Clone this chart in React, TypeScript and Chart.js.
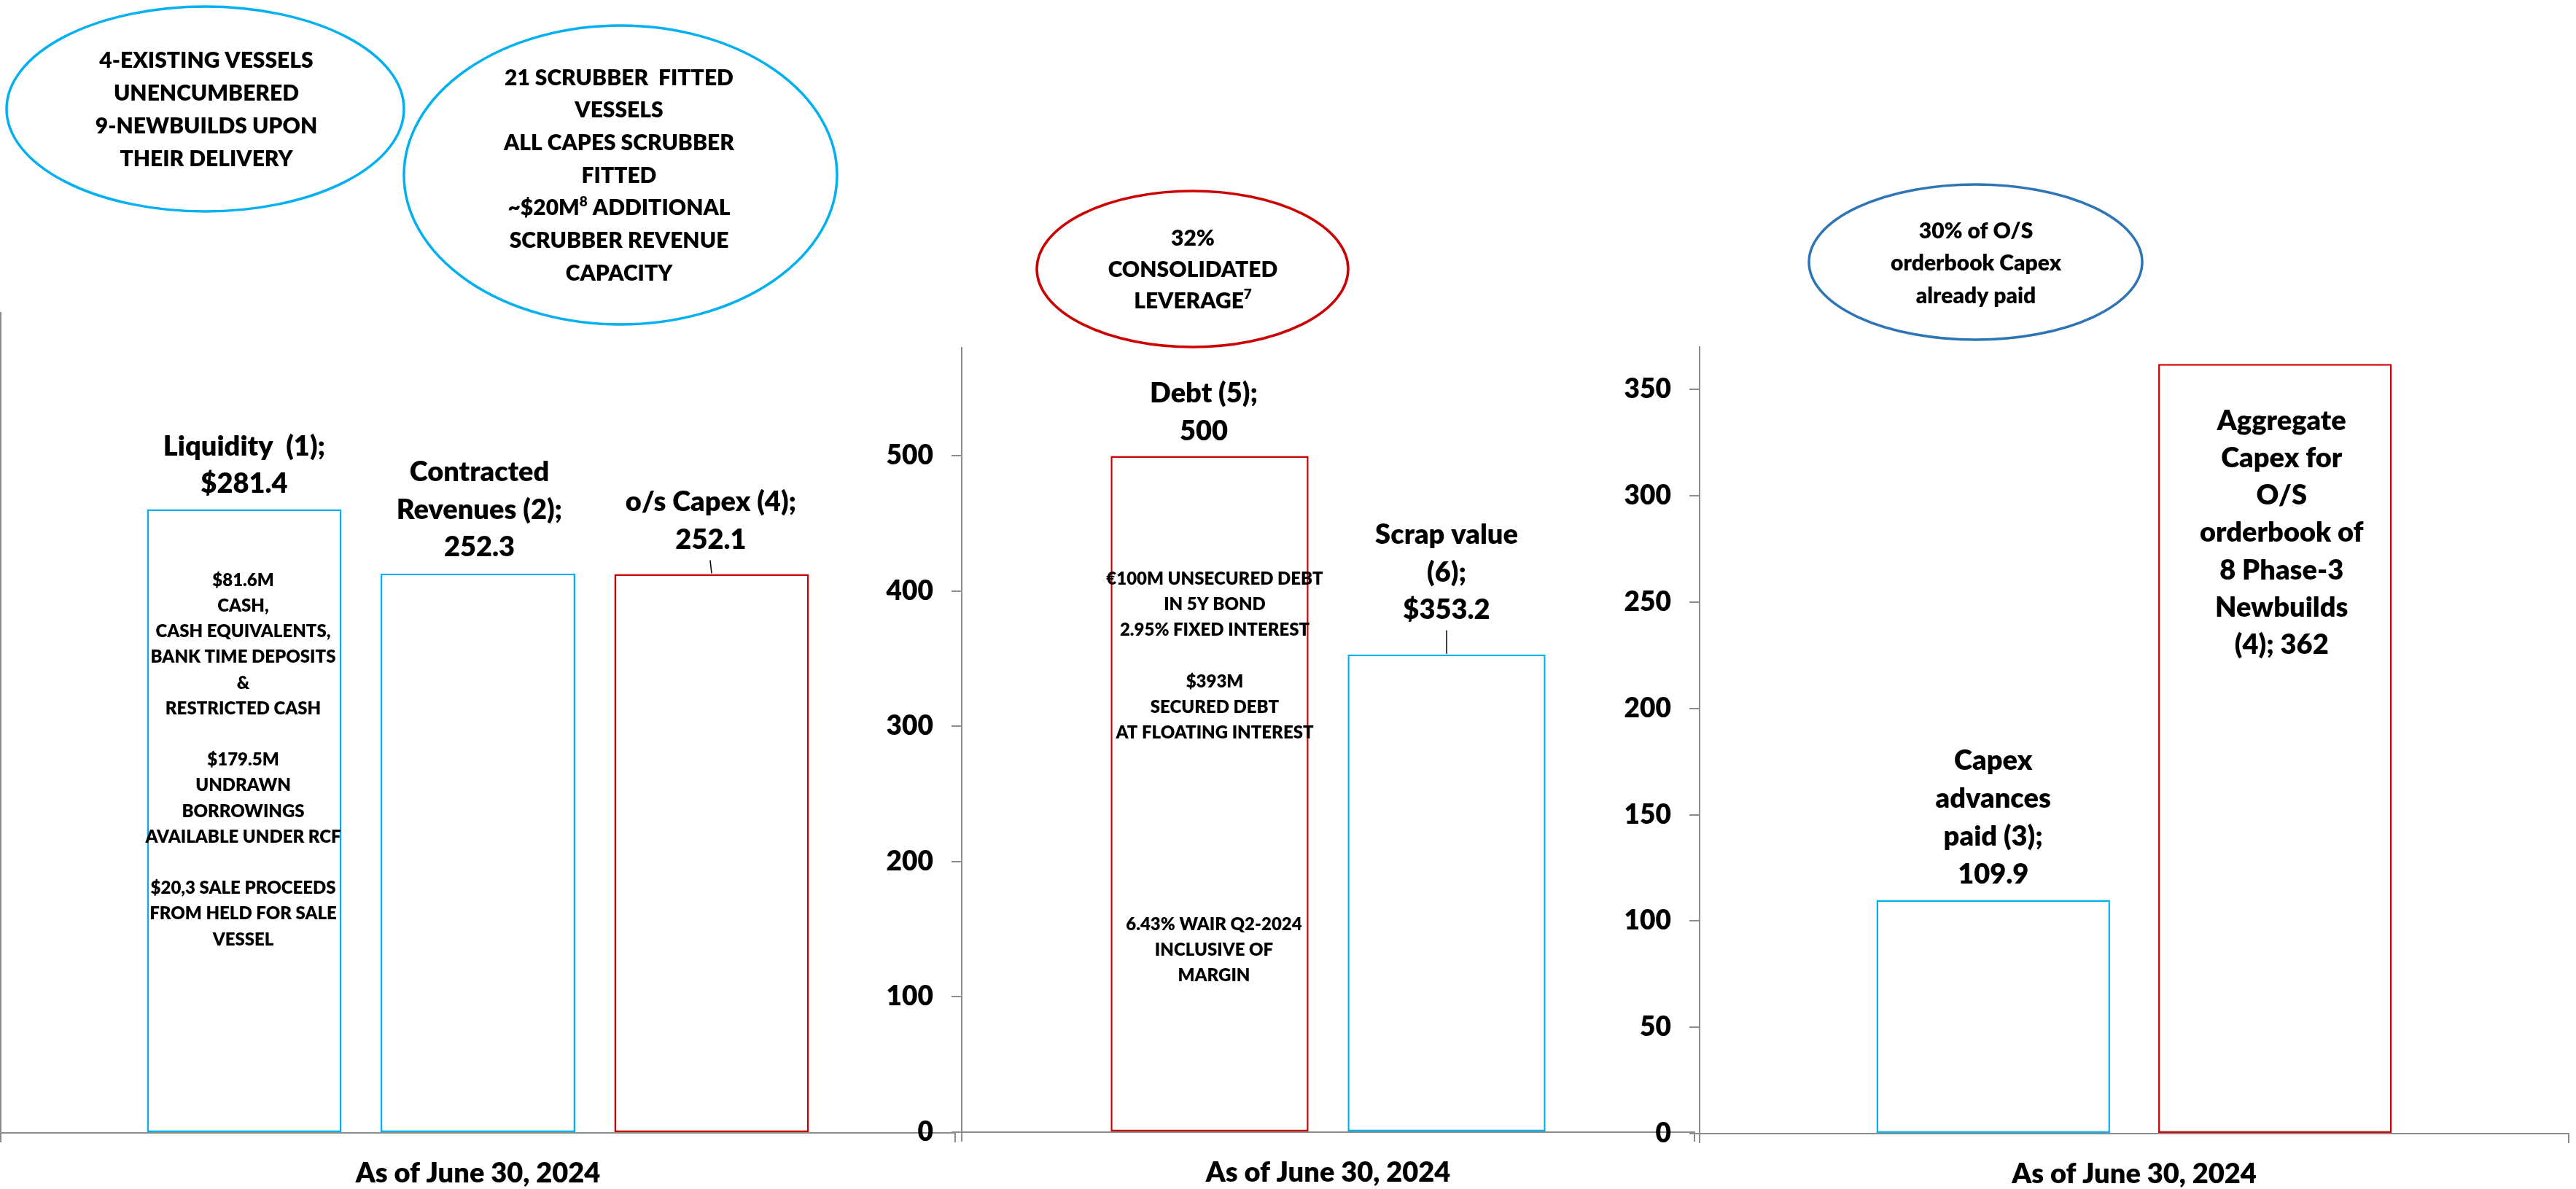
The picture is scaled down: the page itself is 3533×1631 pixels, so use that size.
import React, { useEffect, useRef } from "react";
import { Chart, registerables } from "chart.js";

Chart.register(...registerables);

const FONT_FAMILY = "Lato, 'Noto Sans', sans-serif";
const FONT_WEIGHT = 800;
const LIGHT_BLUE = "#00B0F0";
const RED = "#CC0000";
const STEEL_BLUE = "#2E75B6";
const AXIS_GREY = "#8C8C8C";
const PAGE_W = 3533;
const PAGE_H = 1631;

// ---------- data ----------
const categories = ["As of June 30, 2024"];

// Liquidity & commitments
const liquiditySeries = ["Liquidity (1)", "Contracted Revenues (2)", "o/s Capex (4)"];
const liquidityValues = [281.4, 252.3, 252.1];
const liquidityLabels = [
  ["Liquidity  (1);", "${v}"],
  ["Contracted", "Revenues (2);", "{v}"],
  ["o/s Capex (4);", "{v}"],
];
const liquidityNotes = [
  "$81.6M",
  "CASH,",
  "CASH EQUIVALENTS,",
  "BANK TIME DEPOSITS",
  "&",
  "RESTRICTED CASH",
  "",
  "$179.5M",
  "UNDRAWN",
  "BORROWINGS",
  "AVAILABLE UNDER RCF",
  "",
  "$20,3 SALE PROCEEDS",
  "FROM HELD FOR SALE",
  "VESSEL",
];

// Debt vs scrap value
const debtSeries = ["Debt (5)", "Scrap value (6)"];
const debtValues = [500, 353.2];
const debtLabels = [
  ["Debt (5);", "{v}"],
  ["Scrap value", "(6);", "${v}"],
];
const debtTicks = [0, 100, 200, 300, 400, 500];
const debtNotesUpper = [
  "€100M UNSECURED DEBT",
  "IN 5Y BOND",
  "2.95% FIXED INTEREST",
  "",
  "$393M",
  "SECURED DEBT",
  "AT FLOATING INTEREST",
];
const debtNotesLower = ["6.43% WAIR Q2-2024", "INCLUSIVE OF", "MARGIN"];

// Capex
const capexSeries = [
  "Capex advances paid (3)",
  "Aggregate Capex for O/S orderbook of 8 Phase-3 Newbuilds (4)",
];
const capexValues = [109.9, 362];
const capexLabels = [
  ["Capex", "advances", "paid (3);", "{v}"],
  ["Aggregate", "Capex for", "O/S", "orderbook of", "8 Phase-3", "Newbuilds", "(4); {v}"],
];
const capexTicks = [0, 50, 100, 150, 200, 250, 300, 350];

// Callout bubbles (^n^ marks a superscript)
const vesselsCallout = ["4-EXISTING VESSELS", "UNENCUMBERED", "9-NEWBUILDS UPON", "THEIR DELIVERY"];
const scrubberCallout = [
  "21 SCRUBBER  FITTED",
  "VESSELS",
  "ALL CAPES SCRUBBER",
  "FITTED",
  "~$20M^8^ ADDITIONAL",
  "SCRUBBER REVENUE",
  "CAPACITY",
];
const leverageCallout = ["32%", "CONSOLIDATED", "LEVERAGE^7^"];
const orderbookCallout = ["30% of O/S", "orderbook Capex", "already paid"];

// ---------- helpers ----------
const fmt = (v: number) => (Number.isInteger(v) ? String(v) : v.toFixed(1));
const boldFont = (size: number) => `${FONT_WEIGHT} ${size}px ${FONT_FAMILY}`;

function drawRich(ctx: CanvasRenderingContext2D, text: string, cx: number, cy: number, size: number) {
  const parts = text.split("^");
  const segs = parts.map((t, i) => ({ t, sup: i % 2 === 1 }));
  const supSize = Math.round(size * 0.62);
  let total = 0;
  segs.forEach((s) => {
    ctx.font = boldFont(s.sup ? supSize : size);
    total += ctx.measureText(s.t).width;
  });
  let x = cx - total / 2;
  ctx.textAlign = "left";
  segs.forEach((s) => {
    ctx.font = boldFont(s.sup ? supSize : size);
    ctx.fillText(s.t, x, s.sup ? cy - size * 0.3 : cy);
    x += ctx.measureText(s.t).width;
  });
}

type Placement = {
  mode: "above" | "inside";
  offset: number;
  lineHeight: number;
  dx: number;
  leader?: number;
  leaderSlant?: number;
};
type NoteBlock = { bar: number; dx: number; firstY: number; step: number; lines: string[] };
type Callout = {
  cx: number;
  cy: number;
  rx: number;
  ry: number;
  color: string;
  lines: string[];
  firstY: number;
  step: number;
  textX: number;
};
type PanelSpec = {
  id: string;
  left: number;
  width: number;
  plotTop: number;
  plotRight: number;
  baseline: number;
  yAxisWidth: number;
  max: number;
  ticks?: number[];
  series: string[];
  values: number[];
  labels: string[][];
  colors: string[];
  catPct: number;
  barPct: number;
  placement: Placement[];
  notes: NoteBlock[];
  callouts: Callout[];
};

function annotationPlugin(spec: PanelSpec) {
  return {
    id: "panelAnnotations_" + spec.id,
    afterDraw(chart: any) {
      const ctx: CanvasRenderingContext2D = chart.ctx;
      ctx.save();
      ctx.fillStyle = "#000000";
      ctx.textBaseline = "middle";

      // value labels for each bar
      spec.values.forEach((v, i) => {
        const bar = chart.getDatasetMeta(i).data[0];
        const { x, y } = bar.getProps(["x", "y"], true);
        const p = spec.placement[i];
        const lines = spec.labels[i].map((t) => t.replace("{v}", fmt(v)));
        ctx.font = boldFont(38);
        ctx.textAlign = "center";
        if (p.mode === "above") {
          const lastY = y - p.offset;
          lines.forEach((t, k) =>
            ctx.fillText(t, x + p.dx, lastY - (lines.length - 1 - k) * p.lineHeight)
          );
          if (p.leader) {
            ctx.strokeStyle = "#000000";
            ctx.lineWidth = 1.5;
            ctx.beginPath();
            ctx.moveTo(x - (p.leaderSlant || 0), y - p.leader);
            ctx.lineTo(x, y - 1);
            ctx.stroke();
          }
        } else {
          lines.forEach((t, k) => ctx.fillText(t, x + p.dx, y + p.offset + k * p.lineHeight));
        }
      });

      // descriptive notes inside bars
      ctx.font = boldFont(24);
      ctx.textAlign = "center";
      spec.notes.forEach((n) => {
        const bar = chart.getDatasetMeta(n.bar).data[0];
        const { x } = bar.getProps(["x"], true);
        n.lines.forEach((t, k) => {
          if (t) ctx.fillText(t, x + n.dx, n.firstY + k * n.step);
        });
      });

      // callout bubbles
      spec.callouts.forEach((c) => {
        ctx.strokeStyle = c.color;
        ctx.lineWidth = 3.5;
        ctx.beginPath();
        ctx.ellipse(c.cx - spec.left, c.cy, c.rx, c.ry, 0, 0, Math.PI * 2);
        ctx.stroke();
        c.lines.forEach((t, k) => drawRich(ctx, t, c.textX - spec.left, c.firstY + k * c.step, 30));
      });
      ctx.restore();
    },
  };
}

function buildConfig(spec: PanelSpec): any {
  return {
    type: "bar",
    data: {
      labels: categories,
      datasets: spec.values.map((v, i) => ({
        label: spec.series[i],
        data: [v],
        backgroundColor: "#FFFFFF",
        borderColor: spec.colors[i],
        borderWidth: 2.5,
        borderSkipped: false,
        categoryPercentage: spec.catPct,
        barPercentage: spec.barPct,
      })),
    },
    options: {
      responsive: false,
      animation: false,
      devicePixelRatio: 1,
      events: [],
      layout: {
        padding: {
          top: spec.plotTop,
          right: spec.width - (spec.plotRight - spec.left),
          bottom: 0,
          left: 0,
        },
      },
      plugins: { legend: { display: false }, tooltip: { enabled: false }, title: { display: false } },
      scales: {
        x: {
          grid: {
            drawOnChartArea: false,
            drawTicks: true,
            tickLength: 13,
            color: AXIS_GREY,
            lineWidth: 2,
            offset: true,
          },
          border: { display: true, color: AXIS_GREY, width: 2 },
          ticks: {
            color: "#000000",
            font: { family: FONT_FAMILY, size: 38, weight: FONT_WEIGHT },
            padding: 20,
            maxRotation: 0,
            autoSkip: false,
          },
          afterFit: (s: any) => {
            s.height = PAGE_H - spec.baseline;
          },
        },
        y: {
          min: 0,
          max: spec.max,
          grid: {
            drawOnChartArea: false,
            drawTicks: !!spec.ticks,
            tickLength: 14,
            color: AXIS_GREY,
            lineWidth: 2,
          },
          border: { display: true, color: AXIS_GREY, width: 2 },
          ticks: {
            display: !!spec.ticks,
            color: "#000000",
            font: { family: FONT_FAMILY, size: 37, weight: FONT_WEIGHT },
            padding: 25,
          },
          afterBuildTicks: (s: any) => {
            if (spec.ticks) s.ticks = spec.ticks.map((value) => ({ value }));
          },
          afterFit: (s: any) => {
            s.width = spec.yAxisWidth;
          },
        },
      },
    },
    plugins: [annotationPlugin(spec)],
  };
}

// ---------- panels ----------
const liquidityPanel: PanelSpec = {
  id: "liquidity",
  left: 0,
  width: 1320,
  plotTop: 429,
  plotRight: 1310,
  baseline: 1554,
  yAxisWidth: 1,
  max: 370,
  series: liquiditySeries,
  values: liquidityValues,
  labels: liquidityLabels,
  colors: [LIGHT_BLUE, LIGHT_BLUE, RED],
  catPct: 0.7345,
  barPct: 0.833,
  placement: [
    { mode: "above", offset: 35, lineHeight: 51, dx: 0 },
    { mode: "above", offset: 36, lineHeight: 51.5, dx: 2 },
    { mode: "above", offset: 47, lineHeight: 52, dx: -1, leader: 19, leaderSlant: 2 },
  ],
  notes: [{ bar: 0, dx: -1.5, firstY: 796, step: 35.2, lines: liquidityNotes }],
  callouts: [
    {
      cx: 281.5, cy: 149.5, rx: 272.5, ry: 140.5, color: LIGHT_BLUE,
      lines: vesselsCallout, firstY: 83, step: 45, textX: 283,
    },
    {
      cx: 851, cy: 240, rx: 297, ry: 205, color: LIGHT_BLUE,
      lines: scrubberCallout, firstY: 107, step: 44.7, textX: 849,
    },
  ],
};

const debtPanel: PanelSpec = {
  id: "debt",
  left: 1200,
  width: 1130,
  plotTop: 477,
  plotRight: 2324,
  baseline: 1553,
  yAxisWidth: 119,
  max: 580,
  ticks: debtTicks,
  series: debtSeries,
  values: debtValues,
  labels: debtLabels,
  colors: [RED, LIGHT_BLUE],
  catPct: 0.6468,
  barPct: 0.835,
  placement: [
    { mode: "above", offset: 34, lineHeight: 52, dx: -8 },
    { mode: "above", offset: 61, lineHeight: 51.5, dx: 0, leader: 33 },
  ],
  notes: [
    { bar: 0, dx: 7, firstY: 794, step: 35.2, lines: debtNotesUpper },
    { bar: 0, dx: 6, firstY: 1268, step: 35, lines: debtNotesLower },
  ],
  callouts: [
    {
      cx: 1635.5, cy: 369, rx: 213.5, ry: 107, color: RED,
      lines: leverageCallout, firstY: 327, step: 43, textX: 1636,
    },
  ],
};

const capexPanel: PanelSpec = {
  id: "capex",
  left: 2200,
  width: 1333,
  plotTop: 476,
  plotRight: 3523,
  baseline: 1555,
  yAxisWidth: 131,
  max: 370,
  ticks: capexTicks,
  series: capexSeries,
  values: capexValues,
  labels: capexLabels,
  colors: [LIGHT_BLUE, RED],
  catPct: 0.6485,
  barPct: 0.829,
  placement: [
    { mode: "above", offset: 35, lineHeight: 52, dx: 0 },
    { mode: "inside", offset: 78, lineHeight: 51.3, dx: 9 },
  ],
  notes: [],
  callouts: [
    {
      cx: 2709.5, cy: 359.5, rx: 228.5, ry: 106.5, color: STEEL_BLUE,
      lines: orderbookCallout, firstY: 317, step: 44.5, textX: 2710,
    },
  ],
};

function PanelChart({ spec }: { spec: PanelSpec }) {
  const ref = useRef<HTMLCanvasElement | null>(null);
  useEffect(() => {
    const canvas = ref.current;
    if (!canvas) return;
    const chart = new Chart(canvas, buildConfig(spec));
    let alive = true;
    if ((document as any).fonts && (document as any).fonts.load) {
      (document as any).fonts
        .load(boldFont(38))
        .then(() => {
          if (alive) chart.update();
        })
        .catch(() => {});
    }
    return () => {
      alive = false;
      chart.destroy();
    };
  }, [spec]);
  return (
    <canvas
      ref={ref}
      width={spec.width}
      height={PAGE_H}
      style={{ position: "absolute", left: spec.left, top: 0, width: spec.width, height: PAGE_H }}
    />
  );
}

export default function App() {
  return (
    <div
      style={{
        position: "absolute",
        left: 0,
        top: 0,
        width: PAGE_W,
        height: PAGE_H,
        overflow: "hidden",
        background: "#FFFFFF",
      }}
    >
      <PanelChart spec={liquidityPanel} />
      <PanelChart spec={debtPanel} />
      <PanelChart spec={capexPanel} />
    </div>
  );
}
